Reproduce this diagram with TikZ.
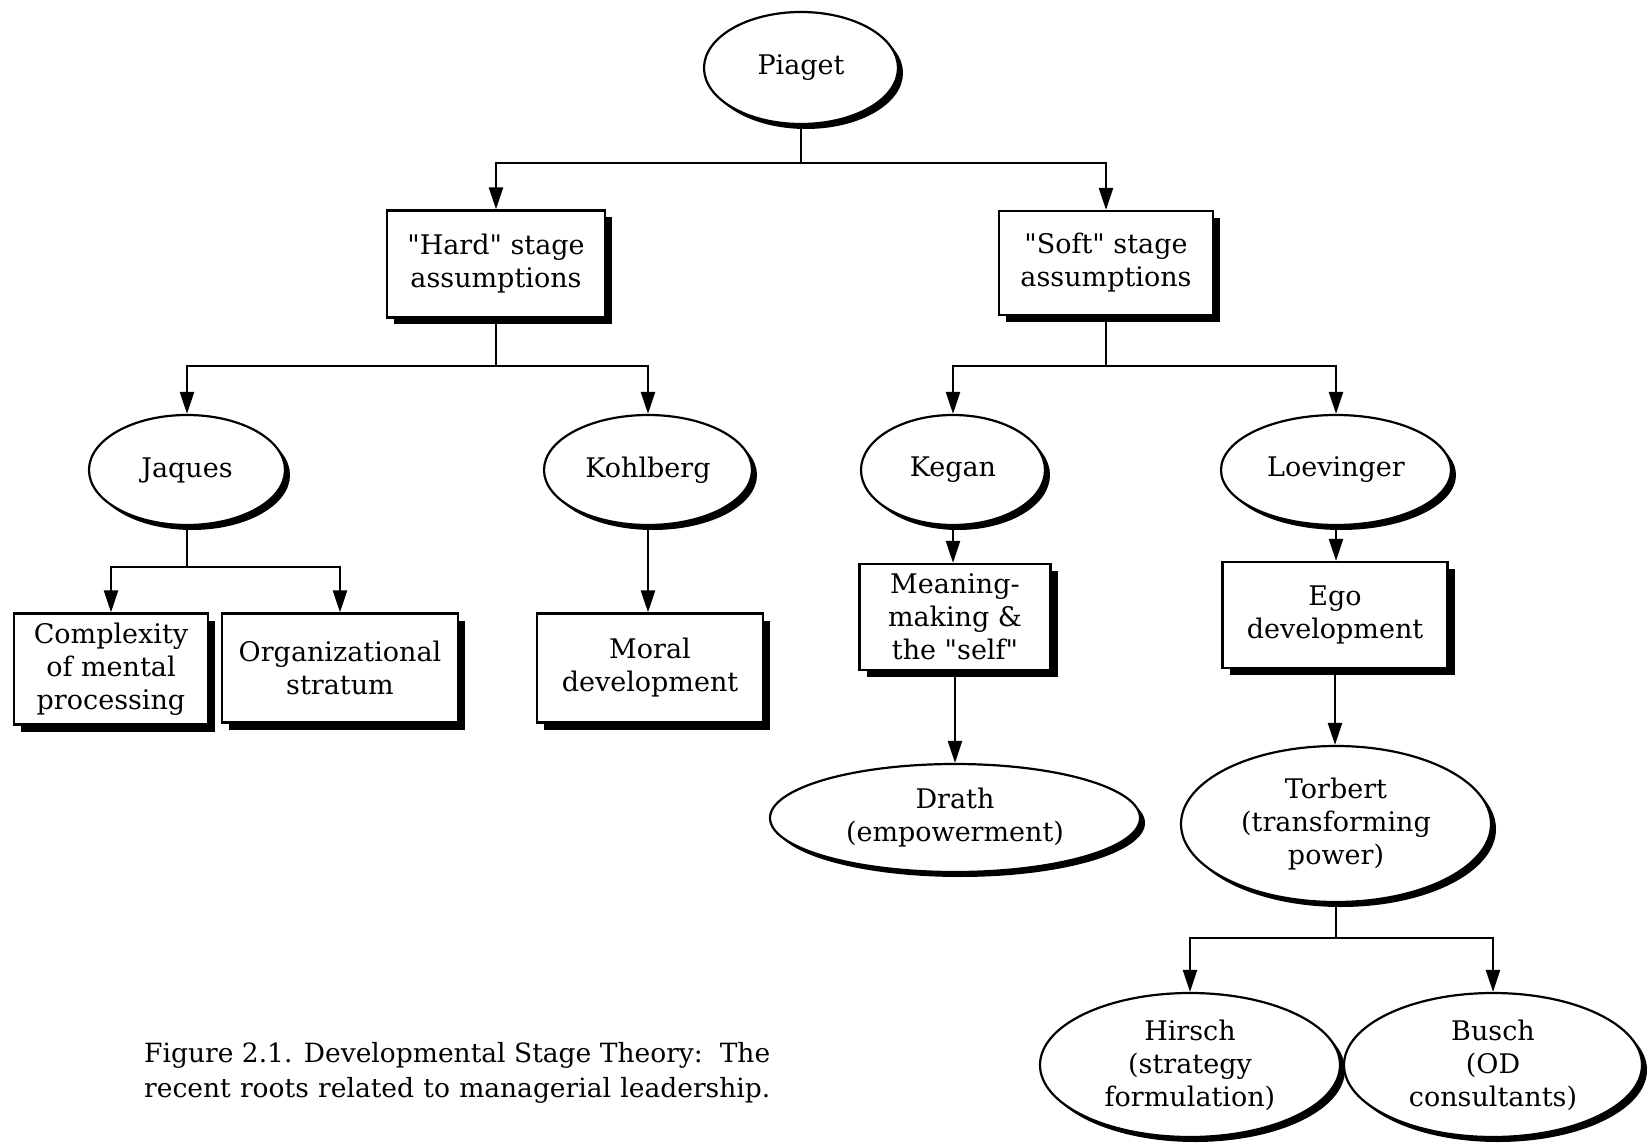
\documentclass[tikz,border=0pt]{standalone}
\usepackage{fontspec}
\setmainfont{DejaVu Serif}[Ligatures=TeXOff]
\usetikzlibrary{shapes.geometric,arrows.meta,shadows}
\begin{document}
\begin{tikzpicture}[x=1pt,y=-1pt,
  every node/.style={font=\fontsize{27}{33}\selectfont, align=center, inner sep=0pt},
  oval/.style={ellipse, draw, line width=2.2pt, fill=white,
    drop shadow={shadow xshift=5pt, shadow yshift=-5pt, fill=black, opacity=1}},
  rbox/.style={rectangle, draw, line width=2.2pt, fill=white,
    drop shadow={shadow xshift=7pt, shadow yshift=-7pt, fill=black, opacity=1}},
  link/.style={line width=2.4pt, -{Triangle[length=22pt,width=14pt]}}]
\useasboundingbox (0,0) rectangle (1647,1147);
\fill[white] (0,0) rectangle (1647,1147);

% nodes
\node[oval, minimum width=194pt, minimum height=112pt] (piaget) at (801,68) {Piaget};
\node[rbox, minimum width=218pt, minimum height=107pt] (hard) at (496,264) {"Hard" stage\\assumptions};
\node[rbox, minimum width=214pt, minimum height=104pt] (soft) at (1106,263) {"Soft" stage\\assumptions};
\node[oval, minimum width=196pt, minimum height=110pt] (jaques) at (187,470) {Jaques};
\node[oval, minimum width=208pt, minimum height=110pt] (kohlberg) at (648,470) {Kohlberg};
\node[oval, minimum width=184pt, minimum height=110pt] (kegan) at (953,470) {Kegan};
\node[oval, minimum width=230pt, minimum height=110pt] (loevinger) at (1336,470) {Loevinger};
\node[rbox, minimum width=194pt, minimum height=111pt] (complexity) at (111,669) {Complexity\\of mental\\processing};
\node[rbox, minimum width=236pt, minimum height=109pt] (org) at (340,668) {Organizational\\stratum};
\node[rbox, minimum width=226pt, minimum height=109pt] (moral) at (650,668) {Moral\\development};
\node[rbox, minimum width=191pt, minimum height=106pt] (meaning) at (955,617) {Meaning-\\making \&\\the "self"};
\node[rbox, minimum width=225pt, minimum height=106pt] (ego) at (1335,615) {Ego\\development};
\node[oval, minimum width=370pt, minimum height=108pt] (drath) at (955,818) {Drath\\(empowerment)};
\node[oval, minimum width=310pt, minimum height=156pt] (torbert) at (1336,824) {Torbert\\(transforming\\power)};
\node[oval, minimum width=300pt, minimum height=144pt] (hirsch) at (1190,1065) {Hirsch\\(strategy\\formulation)};
\node[oval, minimum width=298pt, minimum height=144pt] (busch) at (1493,1065) {Busch\\(OD\\consultants)};

\node[anchor=west, align=left, font=\fontsize{26.5}{35}\selectfont] (caption) at (144,1073)
  {\makebox[626pt][s]{Figure 2.1. Developmental Stage Theory:\ \ The}\\
   \makebox[626pt][s]{recent roots related to managerial leadership.}};

% connectors
\coordinate (pj) at (piaget.south |- 0,163);
\draw[link] (piaget.south) -- (pj) -| (hard.north);
\draw[link] (pj) -| (soft.north);

\coordinate (hj) at (hard.south |- 0,366);
\draw[link] (hard.south) -- (hj) -| (jaques.north);
\draw[link] (hj) -| (kohlberg.north);

\coordinate (sj) at (soft.south |- 0,366);
\draw[link] (soft.south) -- (sj) -| (kegan.north);
\draw[link] (sj) -| (loevinger.north);

\coordinate (jj) at (jaques.south |- 0,567);
\draw[link] (jaques.south) -- (jj) -| (complexity.north);
\draw[link] (jj) -| (org.north);

\draw[link] (kohlberg.south) -- (kohlberg.south |- moral.north);
\draw[link] (kegan.south) -- (kegan.south |- meaning.north);
\draw[link] (meaning.south) -- (meaning.south |- drath.north);
\draw[link] (loevinger.south) -- (loevinger.south |- ego.north);
\draw[link] (ego.south) -- (ego.south |- torbert.north);

\coordinate (tj) at (torbert.south |- 0,938);
\draw[link] (torbert.south) -- (tj) -| (hirsch.north);
\draw[link] (tj) -| (busch.north);
\end{tikzpicture}
\end{document}
